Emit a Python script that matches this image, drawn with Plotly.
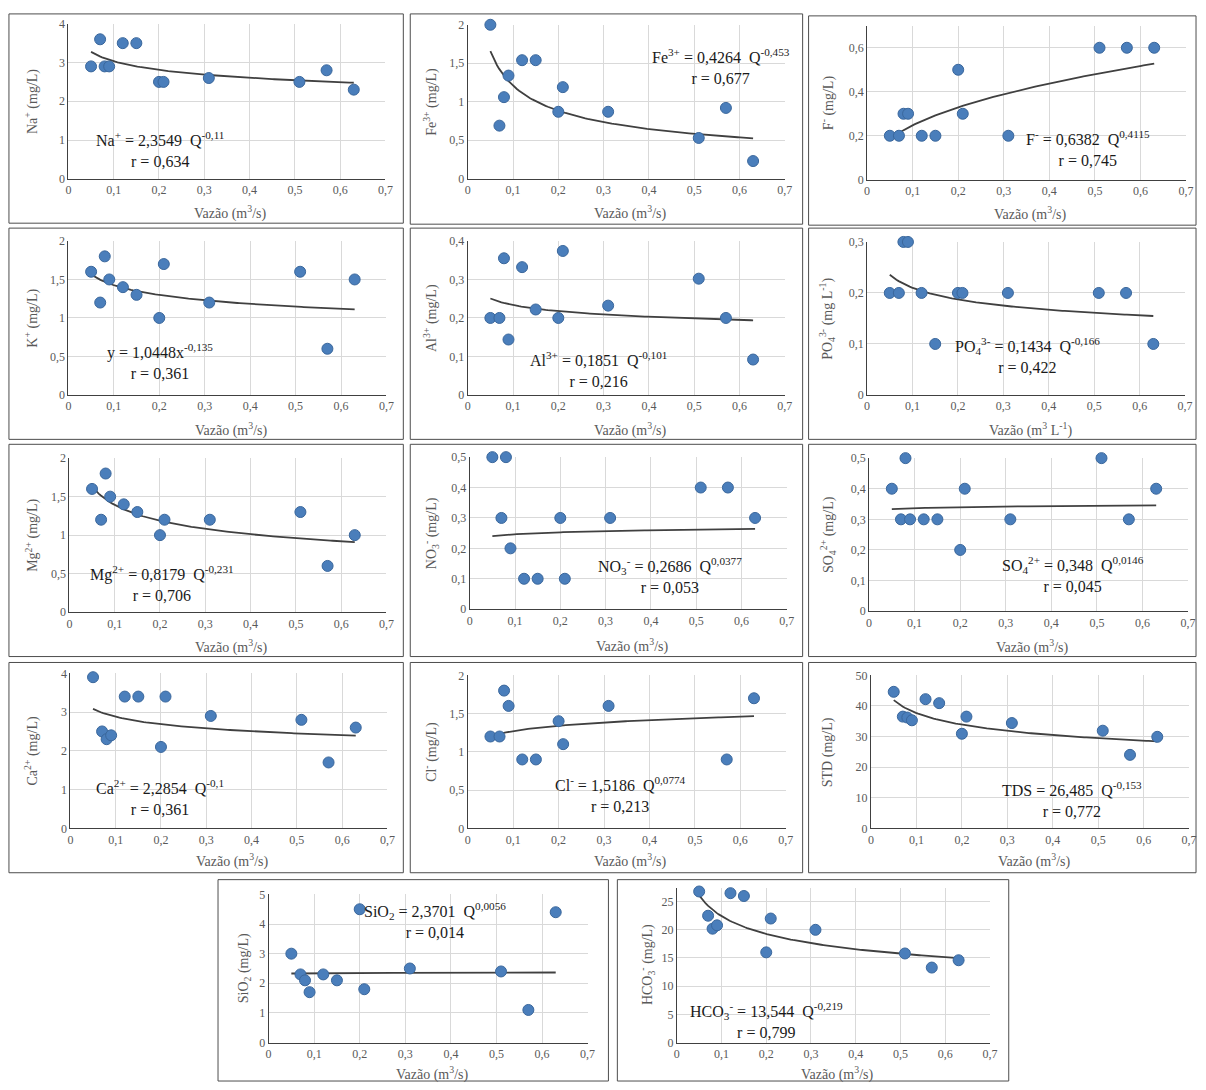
import numpy as np
import plotly.graph_objects as go

# ---------------- data ----------------
Q = [0.05, 0.07, 0.08, 0.09, 0.12, 0.15, 0.20, 0.21, 0.31, 0.51, 0.57, 0.63]
Q_cl = [0.05, 0.07, 0.08, 0.09, 0.12, 0.15, 0.20, 0.21, 0.31, 0.57, 0.63]

na = [2.9, 3.6, 2.9, 2.9, 3.5, 3.5, 2.5, 2.5, 2.6, 2.5, 2.8, 2.3]
fe = [2.0, 0.69, 1.06, 1.34, 1.54, 1.54, 0.87, 1.19, 0.87, 0.53, 0.92, 0.23]
fl = [0.2, 0.2, 0.3, 0.3, 0.2, 0.2, 0.5, 0.3, 0.2, 0.6, 0.6, 0.6]
k = [1.6, 1.2, 1.8, 1.5, 1.4, 1.3, 1.0, 1.7, 1.2, 1.6, 0.6, 1.5]
al = [0.2, 0.2, 0.355, 0.144, 0.332, 0.222, 0.2, 0.374, 0.232, 0.302, 0.2, 0.092]
po4 = [0.2, 0.2, 0.3, 0.3, 0.2, 0.1, 0.2, 0.2, 0.2, 0.2, 0.2, 0.1]
mg = [1.6, 1.2, 1.8, 1.5, 1.4, 1.3, 1.0, 1.2, 1.2, 1.3, 0.6, 1.0]
no3 = [0.5, 0.3, 0.5, 0.2, 0.1, 0.1, 0.3, 0.1, 0.3, 0.4, 0.4, 0.3]
so4 = [0.4, 0.3, 0.5, 0.3, 0.3, 0.3, 0.2, 0.4, 0.3, 0.5, 0.3, 0.4]
ca = [3.9, 2.5, 2.3, 2.4, 3.4, 3.4, 2.1, 3.4, 2.9, 2.8, 1.7, 2.6]
cl = [1.2, 1.2, 1.8, 1.6, 0.9, 0.9, 1.4, 1.1, 1.6, 0.9, 1.7]
std = [44.6, 36.5, 36.2, 35.3, 42.2, 40.9, 30.9, 36.5, 34.4, 31.9, 24.0, 29.9]
sio2 = [3.0, 2.3, 2.1, 1.7, 2.3, 2.1, 4.5, 1.8, 2.5, 2.4, 1.1, 4.4]
hco3 = [26.8, 22.5, 20.2, 20.8, 26.5, 26.0, 16.0, 22.0, 20.0, 15.8, 13.3, 14.6]

# power-law fit coefficients (C = a * Q^b) as printed on each panel
fit_a = [2.3549, 0.4264, 0.6382, 1.0448, 0.1851, 0.1434, 0.8179, 0.2686, 0.348, 2.2854, 1.5186, 26.485, 2.3701, 13.544]
fit_b = [-0.11, -0.453, 0.4115, -0.135, -0.101, -0.166, -0.231, 0.0377, 0.0146, -0.1, 0.0774, -0.153, 0.0056, -0.219]
fit_x0 = [0.05, 0.05, 0.07, 0.05, 0.05, 0.05, 0.05, 0.05, 0.05, 0.05, 0.05, 0.05, 0.05, 0.05]
fit_x1 = 0.63

y_titles = [
    "Na<sup>+</sup> (mg/L)", "Fe<sup>3+</sup> (mg/L)", "F<sup>-</sup> (mg/L)",
    "K<sup>+</sup> (mg/L)", "Al<sup>3+</sup> (mg/L)", "PO<sub>4</sub><sup>3-</sup> (mg L<sup>-1</sup>)",
    "Mg<sup>2+</sup> (mg/L)", "NO<sub>3</sub><sup>-</sup> (mg/L)", "SO<sub>4</sub><sup>2+</sup> (mg/L)",
    "Ca<sup>2+</sup> (mg/L)", "Cl<sup>-</sup> (mg/L)", "STD (mg/L)",
    "SiO<sub>2</sub> (mg/L)", "HCO<sub>3</sub><sup>-</sup> (mg/L)",
]
x_title = "Vazão (m<sup>3</sup>/s)"
x_title_po4 = "Vazão (m<sup>3</sup> L<sup>-1</sup>)"

equations = [
    "Na<sup>+</sup> = 2,3549  Q<sup>-0,11</sup><br>r = 0,634",
    "Fe<sup>3+</sup> = 0,4264  Q<sup>-0,453</sup><br>r = 0,677",
    "F<sup>-</sup> = 0,6382  Q<sup>0,4115</sup><br>r = 0,745",
    "y = 1,0448x<sup>-0,135</sup><br>r = 0,361",
    "Al<sup>3+</sup> = 0,1851  Q<sup>-0,101</sup><br>r = 0,216",
    "PO<sub>4</sub><sup>3-</sup> = 0,1434  Q<sup>-0,166</sup><br>r = 0,422",
    "Mg<sup>2+</sup> = 0,8179  Q<sup>-0,231</sup><br>r = 0,706",
    "NO<sub>3</sub><sup>-</sup> = 0,2686  Q<sup>0,0377</sup><br>r = 0,053",
    "SO<sub>4</sub><sup>2+</sup> = 0,348  Q<sup>0,0146</sup><br>r = 0,045",
    "Ca<sup>2+</sup> = 2,2854  Q<sup>-0,1</sup><br>r = 0,361",
    "Cl<sup>-</sup> = 1,5186  Q<sup>0,0774</sup><br>r = 0,213",
    "TDS = 26,485  Q<sup>-0,153</sup><br>r = 0,772",
    "SiO<sub>2</sub> = 2,3701  Q<sup>0,0056</sup><br>r = 0,014",
    "HCO<sub>3</sub><sup>-</sup> = 13,544  Q<sup>-0,219</sup><br>r = 0,799",
]

y_max = [4, 2, 0.7, 2, 0.4, 0.3, 2, 0.5, 0.5, 4, 2, 50, 5, 27.5]
y_dtick = [1, 0.5, 0.2, 0.5, 0.1, 0.1, 0.5, 0.1, 0.1, 1, 0.5, 10, 1, 5]

series_x = [Q, Q, Q, Q, Q, Q, Q, Q, Q, Q, Q_cl, Q, Q, Q]
series_y = [na, fe, fl, k, al, po4, mg, no3, so4, ca, cl, std, sio2, hco3]

# ---------------- layout geometry (pixels) ----------------
W, H = 1206, 1090
# plot areas: left, right, top, bottom
plot_px = [
    (66, 386, 17, 174), (469, 789, 18, 174), (872, 1194, 19, 175),
    (66, 387, 237, 393), (469, 789, 237, 393), (872, 1193, 238, 393),
    (67, 387, 457, 613), (471, 791, 456, 610), (874, 1196, 457, 612),
    (68, 388, 675, 832), (469, 790, 677, 832), (876, 1197, 677, 832),
    (268, 590, 899, 1049), (680, 996, 892, 1049),
]
# framing boxes: left, right, top, bottom
box_px = [
    (6, 404, 7, 219), (411, 807, 7, 220), (813, 1204, 9, 221),
    (6, 404, 224, 438), (411, 807, 224, 438), (813, 1204, 224, 438),
    (6, 404, 443, 658), (411, 807, 443, 658), (813, 1204, 443, 658),
    (6, 404, 664, 877), (411, 807, 664, 877), (813, 1204, 664, 877),
    (217, 611, 884, 1088), (620, 1015, 884, 1088),
]
# equation centres (pixels)
eq_px = [
    (158, 144), (725, 60), (1095, 143),
    (158, 359), (601, 367), (1034, 353),
    (160, 584), (673, 576), (1080, 575),
    (158, 801), (623, 798), (1079, 803),
    (436, 925), (771, 1027),
]
ytitle_x = [29, 432, 832, 29, 432, 832, 29, 432, 832, 29, 432, 832, 244, 650]
xtitle_dy = [34, 34, 34, 35, 35, 35, 35, 37, 36, 33, 33, 33, 31, 31]


def px_x(p):
    return p / W


def px_y(p):
    return 1 - p / H


SERIF = "Liberation Serif, Times New Roman, serif"
GRAY = "#595959"

fig = go.Figure()
annotations = []
shapes = []
layout_axes = {}

for i in range(14):
    n = "" if i == 0 else str(i + 1)
    xa, ya = "x" + n, "y" + n
    l, r, t, b = plot_px[i]
    layout_axes["xaxis" + n] = dict(
        domain=[px_x(l), px_x(r)], anchor=ya, range=[0, 0.7], dtick=0.1, tick0=0,
        showgrid=True, gridcolor="#D9D9D9", gridwidth=1, zeroline=False,
        showline=True, linecolor="#404040", linewidth=1, ticks="",
        tickfont=dict(family=SERIF, size=12, color=GRAY), fixedrange=True,
    )
    layout_axes["yaxis" + n] = dict(
        domain=[px_y(b), px_y(t)], anchor=xa, range=[0, y_max[i]], dtick=y_dtick[i], tick0=0,
        showgrid=True, gridcolor="#D9D9D9", gridwidth=1, zeroline=False,
        showline=True, linecolor="#404040", linewidth=1, ticks="",
        tickfont=dict(family=SERIF, size=12, color=GRAY), fixedrange=True,
    )
    # trend line from the printed power-law equation
    xf = np.linspace(fit_x0[i], fit_x1, 120)
    yf = fit_a[i] * xf ** fit_b[i]
    fig.add_trace(go.Scatter(
        x=xf, y=yf, mode="lines", xaxis=xa, yaxis=ya,
        line=dict(color="#404040", width=1.8), hoverinfo="skip", showlegend=False,
    ))
    fig.add_trace(go.Scatter(
        x=series_x[i], y=series_y[i], mode="markers", xaxis=xa, yaxis=ya,
        marker=dict(size=11, color="#4A7EBB", line=dict(color="#3A679C", width=1)),
        cliponaxis=False, showlegend=False,
    ))
    # box
    bl, br, bt, bb = box_px[i]
    shapes.append(dict(type="rect", xref="paper", yref="paper",
                       x0=px_x(bl), x1=px_x(br), y0=px_y(bb), y1=px_y(bt),
                       line=dict(color="#4D4D4D", width=1), fillcolor="rgba(0,0,0,0)", layer="below"))
    # equation
    ex, ey = eq_px[i]
    annotations.append(dict(
        text=equations[i], xref="paper", yref="paper", x=px_x(ex), y=px_y(ey),
        xanchor="center", yanchor="middle", align="center", showarrow=False,
        font=dict(family=SERIF, size=16, color="#1A1A1A"),
    ))
    # y title
    annotations.append(dict(
        text=y_titles[i], xref="paper", yref="paper", x=px_x(ytitle_x[i]), y=px_y((t + b) / 2),
        xanchor="center", yanchor="middle", textangle=-90, showarrow=False,
        font=dict(family=SERIF, size=14, color=GRAY),
    ))
    # x title
    annotations.append(dict(
        text=x_title_po4 if i == 5 else x_title, xref="paper", yref="paper",
        x=px_x((l + r) / 2 + 4), y=px_y(b + xtitle_dy[i]),
        xanchor="center", yanchor="middle", showarrow=False,
        font=dict(family=SERIF, size=14, color=GRAY),
    ))

fig.update_layout(
    width=W, height=H, margin=dict(l=0, r=0, t=0, b=0),
    paper_bgcolor="white", plot_bgcolor="white",
    separators=",.", showlegend=False,
    annotations=annotations, shapes=shapes,
    **layout_axes,
)

fig.write_html("out.html")
